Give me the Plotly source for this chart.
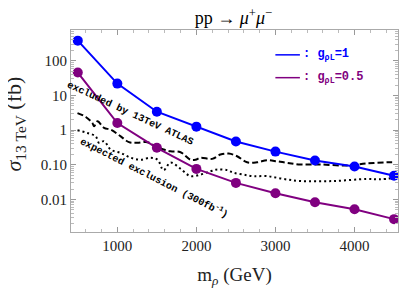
import plotly.graph_objects as go

mass = [500, 1000, 1500, 2000, 2500, 3000, 3500, 4000, 4500]
sigma_g1 = [383, 22, 3.4, 1.26, 0.47, 0.24, 0.133, 0.089, 0.048]
sigma_g05 = [46, 1.6, 0.31, 0.076, 0.030, 0.015, 0.0083, 0.0052, 0.0027]

obs_m = [496, 601, 685, 706, 749, 832, 916, 1043, 1147, 1253, 1380, 1484, 1585, 1673, 1800,
         1926, 1989, 2052, 2200, 2304, 2409, 2515, 2641, 2767, 2894, 3020, 3146, 3314, 3566,
         3903, 4155, 4408, 4513]
obs_s = [3.1, 2.4, 1.6, 1.29, 1.8, 1.16, 1.03, 0.66, 0.45, 0.43, 0.45, 0.34, 0.275, 0.245, 0.23,
         0.14, 0.14, 0.16, 0.148, 0.197, 0.21, 0.176, 0.118, 0.118, 0.135, 0.126, 0.114, 0.102, 0.102,
         0.095, 0.109, 0.118, 0.118]

exp_m = [496, 622, 727, 769, 832, 916, 1043, 1169, 1295, 1421, 1509, 1585, 1673, 1800, 1926,
         2052, 2178, 2263, 2389, 2468, 2595, 2721, 2898, 3100, 3314, 3730, 4159, 4323, 4513]
exp_s = [0.99, 0.83, 0.66, 0.43, 0.48, 0.275, 0.22, 0.16, 0.14, 0.16, 0.14, 0.070, 0.116, 0.076, 0.047,
         0.052, 0.065, 0.073, 0.070, 0.059, 0.052, 0.047, 0.047, 0.039, 0.034, 0.034, 0.039, 0.038, 0.042]

x_ticks = [1000, 2000, 3000, 4000]
y_ticks = [0.01, 0.1, 1, 10, 100]
y_ticktext = ["0.01", "0.10", "1", "10", "100"]

BLUE = "rgb(0,0,255)"
PURPLE = "rgb(128,0,128)"

fig = go.Figure()
fig.add_trace(go.Scatter(x=obs_m, y=obs_s, mode="lines", line=dict(color="black", width=2, dash="6px,3px"),
                         line_shape="spline", showlegend=False))
fig.add_trace(go.Scatter(x=exp_m, y=exp_s, mode="lines", line=dict(color="black", width=2, dash="2px,3px"),
                         line_shape="spline", showlegend=False))
fig.add_trace(go.Scatter(x=mass, y=sigma_g1, mode="lines+markers", line=dict(color=BLUE, width=2),
                         marker=dict(color=BLUE, size=10), cliponaxis=False, showlegend=False))
fig.add_trace(go.Scatter(x=mass, y=sigma_g05, mode="lines+markers", line=dict(color=PURPLE, width=2),
                         marker=dict(color=PURPLE, size=10), cliponaxis=False, showlegend=False))

minor_x = [v for v in range(600, 4600, 200) if v not in x_ticks]
minor_y = []
for d in [0.001, 0.01, 0.1, 1, 10, 100]:
    for k in range(2, 10):
        minor_y.append(d * k)

# the page body keeps its default 8px margin, so the figure is offset by 8px
fig.update_layout(
    width=399, height=288,
    margin=dict(l=63, r=9, t=22, b=64),
    plot_bgcolor="white", paper_bgcolor="white",
    title=dict(text="pp → <i>μ</i><sup>+</sup><i>μ</i><sup>−</sup>", x=0.565, xanchor="center",
               y=0.988, yanchor="top", font=dict(family="Liberation Serif", size=18, color="black")),
    xaxis=dict(range=[414, 4550], tickvals=x_ticks, ticks="inside", ticklen=5, tickcolor="#999",
               showgrid=False, zeroline=False, showline=True, linecolor="#aaa", mirror="allticks",
               tickfont=dict(family="Liberation Serif", size=15, color="#222"),
               minor=dict(tickvals=minor_x, ticks="inside", ticklen=3, tickcolor="#bbb"),
               title=dict(text="m<sub><i>ρ</i></sub> (GeV)", standoff=14,
                          font=dict(family="Liberation Serif", size=19, color="#222"))),
    yaxis=dict(type="log", range=[-2.94, 2.89], tickvals=y_ticks, ticktext=y_ticktext, ticks="inside",
               ticklen=5, tickcolor="#999", showgrid=False, zeroline=False, showline=True, linecolor="#aaa",
               mirror="allticks", tickfont=dict(family="Liberation Serif", size=15, color="#222"),
               minor=dict(tickvals=minor_y, ticks="inside", ticklen=3, tickcolor="#bbb")),
)

# y-axis title as annotation for exact placement
fig.add_annotation(x=-0.170, y=0.534, xref="paper", yref="paper", xanchor="center", yanchor="middle",
                   text="<i>σ</i><sub>13 TeV</sub> (fb)", showarrow=False, textangle=-90,
                   font=dict(family="Liberation Serif", size=22, color="#222"))

fig.add_annotation(x=1160, y=0.47, xref="x", yref="y", text="<b>excluded by 13TeV ATLAS</b>",
                   showarrow=False, textangle=25,
                   font=dict(family="Liberation Mono", size=10, color="black"))
fig.add_annotation(x=1470, y=-1.38, xref="x", yref="y",
                   text="<b>expected exclusion (300fb<sup>-1</sup>)</b>",
                   showarrow=False, textangle=27,
                   font=dict(family="Liberation Mono", size=10, color="black"))

# legend
fig.add_shape(type="line", xref="paper", yref="paper", x0=0.625, x1=0.70, y0=0.877, y1=0.877,
              line=dict(color=BLUE, width=1.5))
fig.add_shape(type="line", xref="paper", yref="paper", x0=0.625, x1=0.70, y0=0.764, y1=0.764,
              line=dict(color=PURPLE, width=1.5))
fig.add_annotation(x=0.703, y=0.877, xref="paper", yref="paper", xanchor="left", yanchor="middle",
                   text="<b>: g<sub>ρL</sub>=1</b>", showarrow=False,
                   font=dict(family="Liberation Mono", size=12, color=BLUE))
fig.add_annotation(x=0.703, y=0.764, xref="paper", yref="paper", xanchor="left", yanchor="middle",
                   text="<b>: g<sub>ρL</sub>=0.5</b>", showarrow=False,
                   font=dict(family="Liberation Mono", size=12, color=PURPLE))

fig.write_html("out.html")
